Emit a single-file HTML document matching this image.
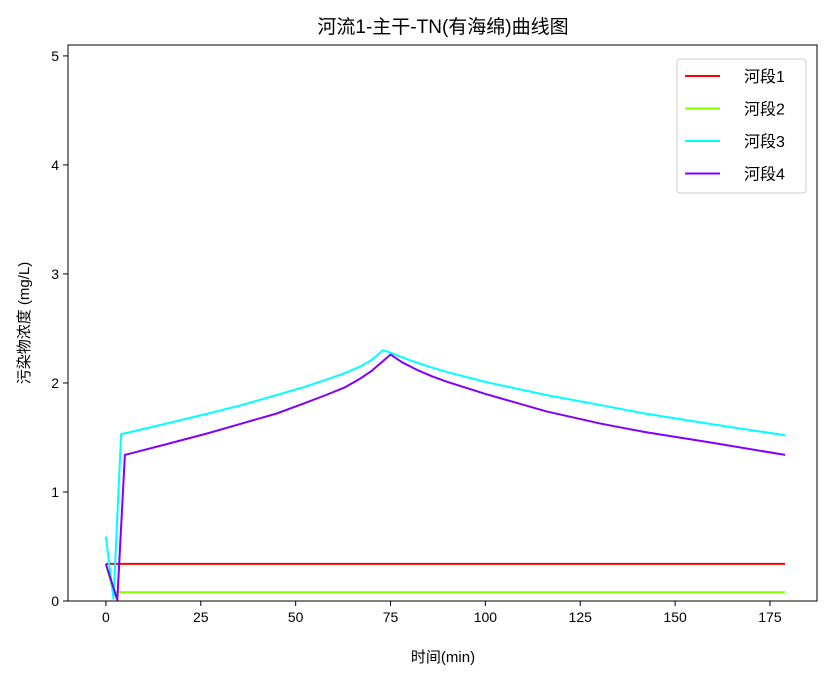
<!DOCTYPE html>
<html><head><meta charset="utf-8">
<style>
body{margin:0;background:#fff;}
svg text{font-family:"Liberation Sans","Noto Sans CJK SC",sans-serif;fill:#000;}
</style></head>
<body>
<svg id="chart" width="831" height="683" viewBox="0 0 831 683" xmlns="http://www.w3.org/2000/svg">
<rect x="0" y="0" width="831" height="683" fill="#fff"/>
<text x="443" y="33" font-size="19" text-anchor="middle">河流1-主干-TN(有海绵)曲线图</text>
<g id="grid"></g>
<g id="series"></g>
<rect x="68" y="45" width="749" height="556" fill="none" stroke="#000" stroke-width="1"/>
<g id="axes"></g>
<text x="443" y="662" font-size="15" text-anchor="middle">时间(min)</text>
<text transform="translate(29,323) rotate(-90)" font-size="15" text-anchor="middle">污染物浓度 (mg/L)</text>
<g id="legend"></g>
</svg>
<script>
const xTicks=[0,25,50,75,100,125,150,175];
const yTicks=[0,1,2,3,4,5];
const seriesNames=["河段1","河段2","河段3","河段4"];
const seriesColors=["#ff0000","#80ff00","#00ffff","#8000ff"];
const r1X=[0,1,179];
const r1Y=[0.34,0.34,0.34];
const r2X=[0,2,179];
const r2Y=[0.34,0.08,0.08];
const r3X=[0,2,4,15,27,36,45,52,58,63,67,70,73,74,77,80,85,90,100,116,130,142,160,179];
const r3Y=[0.59,0.02,1.53,1.62,1.72,1.80,1.89,1.96,2.03,2.09,2.15,2.21,2.30,2.29,2.25,2.21,2.15,2.10,2.01,1.89,1.80,1.72,1.62,1.52];
const r4X=[0,3,5,15,27,36,45,52,58,63,67,70,72,75,78,82,86,90,100,116,130,142,160,179];
const r4Y=[0.34,0.01,1.34,1.43,1.54,1.63,1.72,1.81,1.89,1.96,2.04,2.11,2.17,2.26,2.19,2.12,2.06,2.01,1.90,1.74,1.63,1.55,1.45,1.34];
const xMin=-10.0,xMax=187.4,yMin=0,yMax=5.10;
const L=68,R=817,T=45,B=601;
function sx(v){return L+(v-xMin)/(xMax-xMin)*(R-L);}
function sy(v){return B-(v-yMin)/(yMax-yMin)*(B-T);}
const NS="http://www.w3.org/2000/svg";
function mk(tag,attrs,parent){const e=document.createElementNS(NS,tag);for(const k in attrs)e.setAttribute(k,attrs[k]);parent.appendChild(e);return e;}
const axes=document.getElementById('axes');
xTicks.forEach(t=>{
  const l=mk('line',{x1:sx(t),x2:sx(t),y1:B,y2:B+5,stroke:'#000'},axes);
  
  
  const tx=mk('text',{x:sx(t),y:B+21,'font-size':14,'text-anchor':'middle'},axes);
  tx.textContent=t;
  
  
});
yTicks.forEach(t=>{
  const l=mk('line',{x1:L-5,x2:L,y1:sy(t),y2:sy(t),stroke:'#000'},axes);
  
  
  const tx=mk('text',{x:L-9,y:sy(t)+5,'font-size':14,'text-anchor':'end'},axes);
  tx.textContent=t;
  
  
});
const sg=document.getElementById('series');
const allX=[r1X,r2X,r3X,r4X],allY=[r1Y,r2Y,r3Y,r4Y];
allX.forEach((xs,i)=>{
  const pts=xs.map((x,j)=>sx(x).toFixed(1)+','+sy(allY[i][j]).toFixed(1)).join(' ');
  const p=mk('polyline',{points:pts,fill:'none',stroke:seriesColors[i],'stroke-width':2,'stroke-linejoin':'round'},sg);
  
  
});
const lg=document.getElementById('legend');
const box=mk('rect',{x:677,y:59,width:129,height:134,rx:3,fill:'#fff',stroke:'#ccc'},lg);


seriesNames.forEach((n,i)=>{
  const y=76+i*32.5;
  const l=mk('line',{x1:685,x2:720,y1:y,y2:y,stroke:seriesColors[i],'stroke-width':2},lg);
  
  
  const t=mk('text',{x:744,y:y+6,'font-size':16},lg);
  t.textContent=n;
  
  
});
</script>
</body></html>
